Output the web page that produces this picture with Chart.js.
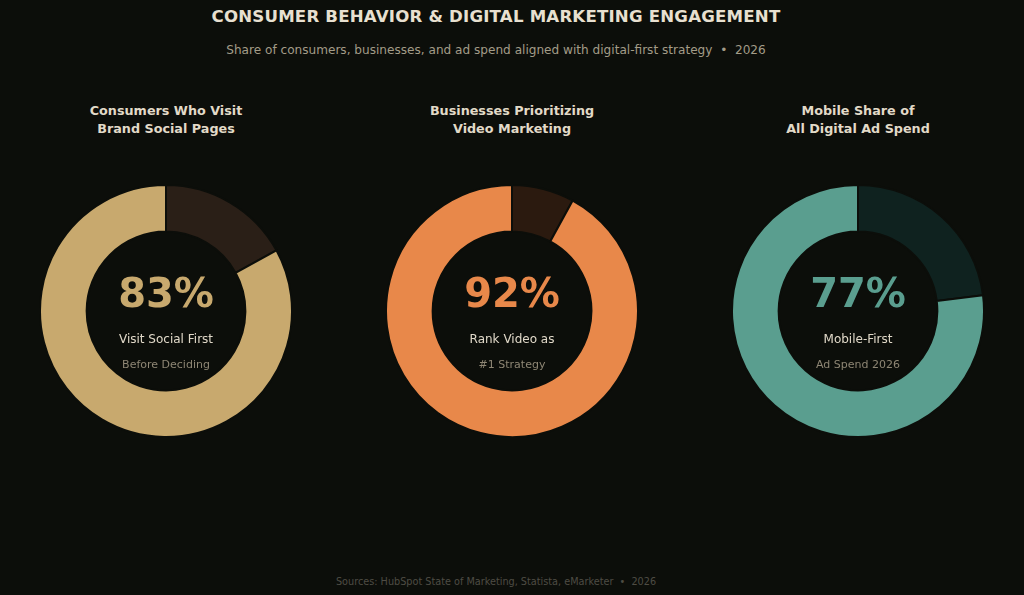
<!DOCTYPE html>
<html><head><meta charset="utf-8">
<script src="https://cdn.jsdelivr.net/npm/chart.js@4"></script>
<style>
html,body{margin:0;padding:0;background:#0c0e0a;width:1024px;height:595px;overflow:hidden;font-family:"DejaVu Sans",sans-serif;}
.abs{position:absolute;white-space:nowrap;}
.ctr{transform:translate(-50%,-50%);text-align:center;}
#title{left:496px;top:16px;font-size:16.6px;font-weight:bold;color:#e8e0d0;letter-spacing:0.2px;}
#subtitle{left:496px;top:50px;font-size:12.1px;color:#a39c88;}
#source{left:496px;top:581px;font-size:9.7px;color:#4e4c44;}
.ptitle{font-size:12.75px;font-weight:bold;color:#e2dac8;line-height:18px;}
.big{font-size:40px;font-weight:bold;}
.lab{font-size:12px;color:#e0d8c8;}
.sub{font-size:11px;color:#8e8674;}
canvas{position:absolute;}
</style></head>
<body>
<div id="title" class="abs ctr">CONSUMER BEHAVIOR &amp; DIGITAL MARKETING ENGAGEMENT</div>
<div id="subtitle" class="abs ctr">Share of consumers, businesses, and ad spend aligned with digital-first strategy &nbsp;•&nbsp; 2026</div>
<div id="source" class="abs ctr">Sources: HubSpot State of Marketing, Statista, eMarketer &nbsp;•&nbsp; 2026</div>
<div id="wrap"></div>
<script>
const panelTitles = [["Consumers Who Visit","Brand Social Pages"],["Businesses Prioritizing","Video Marketing"],["Mobile Share of","All Digital Ad Spend"]];
const values = [83, 92, 77];
const mainLabels = ["Visit Social First","Rank Video as","Mobile-First"];
const subLabels = ["Before Deciding","#1 Strategy","Ad Spend 2026"];
const fillColors = ["#c8a96e","#e8884a","#5a9e8f"];
const restColors = ["#2a1f17","#2b1a0f","#0f221f"];
const centersX = [166, 512, 858];
const centerY = 311;
const size = 254;

const wrap = document.getElementById('wrap');
values.forEach((v, i) => {
  const cx = centersX[i];
  const t = document.createElement('div');
  t.className = 'abs ctr ptitle';
  t.style.left = cx + 'px'; t.style.top = '120px';
  t.innerHTML = panelTitles[i].join('<br>');
  wrap.appendChild(t);

  const c = document.createElement('canvas');
  c.width = size; c.height = size;
  c.style.width = size + 'px'; c.style.height = size + 'px';
  c.style.left = (cx - size/2) + 'px'; c.style.top = (centerY - size/2) + 'px';
  wrap.appendChild(c);

  new Chart(c.getContext('2d'), {
    type: 'doughnut',
    data: {
      labels: ['Other', mainLabels[i]],
      datasets: [{
        data: [100 - v, v],
        backgroundColor: [restColors[i], fillColors[i]],
        borderColor: '#0c0e0a',
        borderWidth: 2
      }]
    },
    options: {
      responsive: false,
      animation: false,
      cutout: '63%',
      layout: {padding: 0},
      plugins: {legend: {display: false}, tooltip: {enabled: false}}
    }
  });

  const b = document.createElement('div');
  b.className = 'abs ctr big';
  b.style.left = cx + 'px'; b.style.top = '293px'; b.style.color = fillColors[i];
  b.textContent = v + '%';
  wrap.appendChild(b);

  const l = document.createElement('div');
  l.className = 'abs ctr lab';
  l.style.left = cx + 'px'; l.style.top = '339px';
  l.textContent = mainLabels[i];
  wrap.appendChild(l);

  const s = document.createElement('div');
  s.className = 'abs ctr sub';
  s.style.left = cx + 'px'; s.style.top = '364px';
  s.textContent = subLabels[i];
  wrap.appendChild(s);
});
</script>
</body></html>
